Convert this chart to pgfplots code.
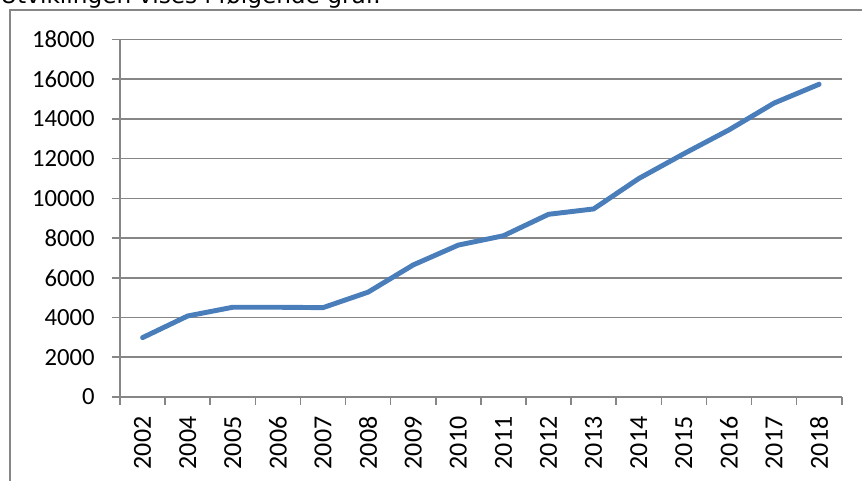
\documentclass[border=0pt]{standalone}
\usepackage{pgfplots}
\pgfplotsset{compat=1.18}
\usepackage{fontspec}
\newfontfamily\carlito{Carlito}
\newfontfamily\dejavu{DejaVu Sans}
\definecolor{linjeblaa}{RGB}{74,126,187}
\definecolor{rutenett}{RGB}{134,134,134}

\begin{document}
\begin{tikzpicture}
% 1 px of the reference = 0.75pt, axis origin at the lower left of the plot area
\useasboundingbox (-90pt,-62.25pt) rectangle (556.5pt,297.75pt);
\clip (-90pt,-62.25pt) rectangle (556.5pt,297.75pt);
\draw[rutenett, line width=1.1pt] (-82.5pt,-80pt) -- (-82.5pt,290.25pt) -- (600pt,290.25pt);
\node[anchor=base west, inner sep=0pt, font=\dejavu\fontsize{17.4}{20}\selectfont]
  at (-90pt,295.1pt) {Utviklingen vises i følgende graf:};
\begin{axis}[
  at={(0pt,0pt)}, anchor=south west,
  scale only axis, width=541.3pt, height=268.1pt,
  xmin=-0.5, xmax=15.5, ymin=0, ymax=18000,
  axis x line*=bottom, axis y line*=left,
  axis line style={rutenett, line width=1.2pt},
  tick align=outside, major tick length=6pt,
  tick style={rutenett, line width=1.2pt},
  xtick={-0.5,0.5,...,15.5}, xticklabels={},
  extra x ticks={0,...,15},
  extra x tick labels={2002,2004,2005,2006,2007,2008,2009,2010,2011,2012,2013,2014,2015,2016,2017,2018},
  extra x tick style={major tick length=0pt, grid=none,
    xticklabel style={rotate=90, anchor=east, inner sep=0pt, xshift=-14.5pt,
      font=\carlito\fontsize{19.5}{20}\selectfont}},
  ytick={0,2000,...,18000},
  scaled y ticks=false,
  ymajorgrids, grid style={rutenett, line width=1.2pt},
  ticklabel style={font=\carlito\fontsize{18.5}{20}\selectfont},
  yticklabel style={anchor=east, inner sep=0pt, xshift=-12.75pt},
  /pgf/number format/1000 sep={},
  /pgf/number format/assume math mode=true,
]
\addplot[linjeblaa, line width=3.7pt, line join=round, line cap=round] coordinates {
  (0,2990)(1,4080)(2,4520)(3,4520)(4,4500)(5,5280)(6,6650)(7,7650)
  (8,8120)(9,9200)(10,9470)(11,11000)(12,12250)(13,13450)(14,14800)(15,15750)
};
\end{axis}
\end{tikzpicture}
\end{document}
